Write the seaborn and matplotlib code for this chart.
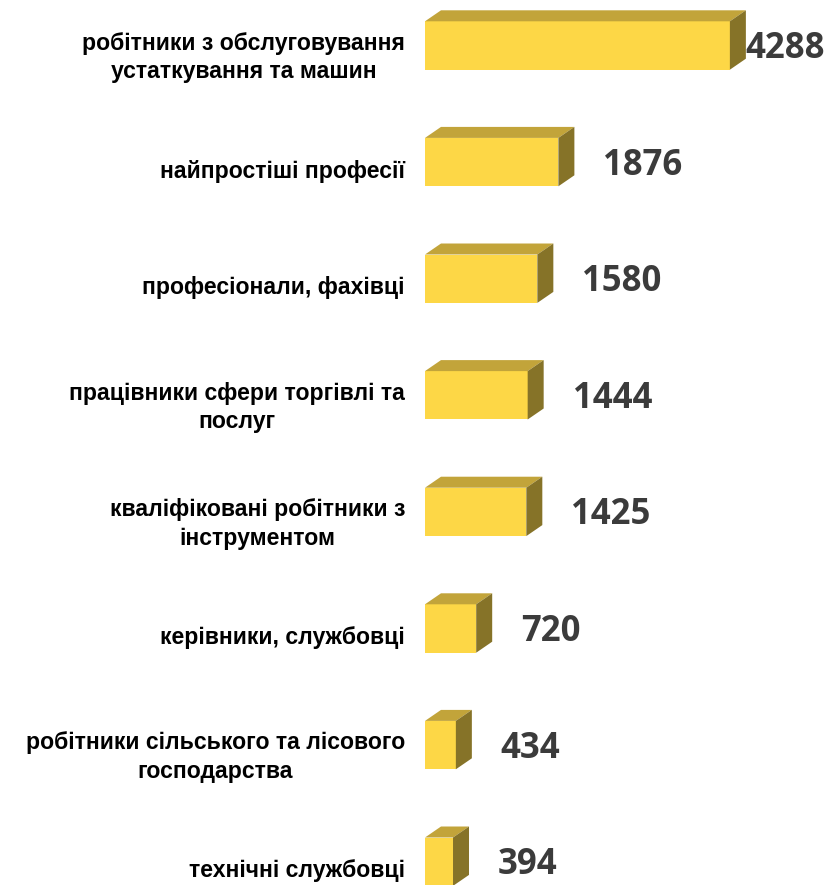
import matplotlib
matplotlib.use("Agg")
import matplotlib.pyplot as plt
from matplotlib.patches import Polygon
import seaborn as sns
import pandas as pd

categories = [
    "робітники з обслуговування\nустаткування та машин",
    "найпростіші професії",
    "професіонали, фахівці",
    "працівники сфери торгівлі та\nпослуг",
    "кваліфіковані робітники з\nінструментом",
    "керівники, службовці",
    "робітники сільського та лісового\nгосподарства",
    "технічні службовці",
]
values = [4288, 1876, 1580, 1444, 1425, 720, 434, 394]

df = pd.DataFrame({"cat": categories, "val": values})

sns.set_theme(style="white")
FRONT = "#FDD746"
TOP = "#C2A43A"
SIDE = "#867328"

W, H, DPI = 827, 885, 100
fig = plt.figure(figsize=(W / DPI, H / DPI), dpi=DPI)
ax = fig.add_axes([425 / W, 0, 402 / W, 1])

sns.barplot(data=df, x="val", y="cat", orient="h", color=FRONT,
            saturation=1, width=0.415, ax=ax, edgecolor="none")

px_per_unit = 0.0711
ax.set_xlim(0, 402 / px_per_unit)
spacing = 116.6
first = 45.5
ax.set_ylim(7 + (885 - (first + 7 * spacing)) / spacing, -first / spacing)
for s in ax.spines.values():
    s.set_visible(False)
ax.set_xticks([])
ax.set_yticks([])
ax.set_xlabel("")
ax.set_ylabel("")

fig.canvas.draw()

dx, dy = 16, 11
for bar, v, cat in zip(ax.patches, values, categories):
    bb = bar.get_window_extent()
    x0, x1, y0, y1 = bb.x0, bb.x1, bb.y0, bb.y1
    yc = (y0 + y1) / 2
    top = Polygon([(x0, y1), (x1, y1), (x1 + dx, y1 + dy), (x0 + dx, y1 + dy)],
                  closed=True, facecolor=TOP, edgecolor="none",
                  transform=None, clip_on=False)
    side = Polygon([(x1, y0), (x1 + dx, y0 + dy), (x1 + dx, y1 + dy), (x1, y1)],
                   closed=True, facecolor=SIDE, edgecolor="none",
                   transform=None, clip_on=False)
    fig.add_artist(top)
    fig.add_artist(side)
    # value label
    lx = x1 + dx + 29
    ha = "left"
    if lx + 78 > W:
        lx = W - 2
        ha = "right"
    fig.text(lx, yc - 12.5, f"{v}", transform=None, ha=ha, va="baseline",
             fontsize=25, fontweight="bold", family="Open Sans", color="#3B3B3B")
    # category label
    off = 12 if "\n" in cat else 9
    fig.text(405, yc - off, cat, transform=None, ha="right", va="center",
             multialignment="center", linespacing=1.3,
             fontsize=16.6, fontweight="bold", family="Liberation Sans",
             color="black")

fig.savefig("out.png", dpi=DPI, facecolor="white")
